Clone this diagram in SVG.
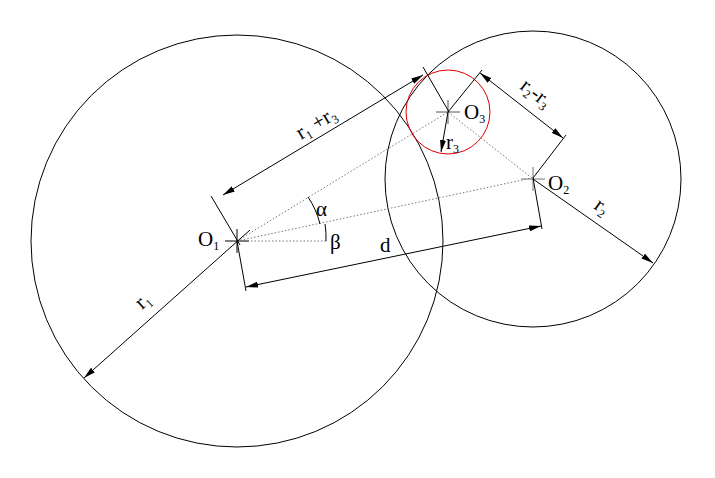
<svg xmlns="http://www.w3.org/2000/svg" width="715" height="478" viewBox="0 0 715 478">
<defs>
<marker id="a" viewBox="0 0 12 6" refX="12" refY="3" markerWidth="12" markerHeight="6" markerUnits="userSpaceOnUse" orient="auto-start-reverse"><path d="M0,0L12,3L0,6Z" fill="#000"/></marker>
<style>
.l{stroke:#000;stroke-width:1;fill:none}
.d{stroke:#777;stroke-width:1;stroke-dasharray:1.5,2;fill:none}
.t{font-family:"Liberation Serif",serif;font-size:21px;fill:#000}
.s{font-size:12px}
</style>
</defs>
<rect width="715" height="478" fill="#fff"/>
<g id="c1"><circle cx="237" cy="241" r="206" class="l"/><path d="M225,241H249M237,229V253" class="l"/><text class="t" x="198" y="246">O<tspan class="s" dy="4">1</tspan></text></g>
<g id="c2"><circle cx="533" cy="179" r="148" class="l"/><path d="M521,179H545M533,167V191" stroke="#777" fill="none"/><text class="t" x="548" y="190">O<tspan class="s" dy="4">2</tspan></text></g>
<g id="c3"><circle cx="448" cy="112" r="42" fill="none" stroke="#e00000"/><path d="M436,112H460M448,100V124" stroke="#555" fill="none"/><text class="t" x="464" y="119">O<tspan class="s" dy="4">3</tspan></text></g>
<g id="connectors">
<path d="M237,241L448,112M237,241L532,178M237,241H327M448,112L532,178" class="d"/>
<path d="M308,197A83,83 0 0 1 320,224M325,224A89,89 0 0 1 326,241" class="l"/>
<path d="M211,196L240,245M423,67L449,112M448,112L482,70M533,178L566,135M237,241L246,291M533,178L542,229" class="l"/>
<path d="M223,195L423,75" class="l" marker-start="url(#a)" marker-end="url(#a)"/>
<path d="M480,73L563,138" class="l" marker-start="url(#a)" marker-end="url(#a)"/>
<path d="M246,287L541,226" class="l" marker-start="url(#a)" marker-end="url(#a)"/>
<path d="M250,230L84,378" class="l" marker-end="url(#a)"/>
<path d="M533,179L653,263" class="l" marker-end="url(#a)"/>
<path d="M448,112L441,152" class="l" marker-end="url(#a)"/>
</g>
<g id="labels">
<text class="t" transform="translate(301,140) rotate(-31)">r<tspan class="s" dy="4">1</tspan><tspan dy="-4"> +r</tspan><tspan class="s" dy="4">3</tspan></text>
<text class="t" transform="translate(519,88) rotate(38)">r<tspan class="s" dy="4">2</tspan><tspan dy="-4">-r</tspan><tspan class="s" dy="4">3</tspan></text>
<text class="t" transform="translate(142,310) rotate(-42)">r<tspan class="s" dy="4">1</tspan></text>
<text class="t" transform="translate(593,208) rotate(35)">r<tspan class="s" dy="4">2</tspan></text>
<text class="t" x="446" y="149">r<tspan class="s" dy="4">3</tspan></text>
<text class="t" x="316" y="216">α</text>
<text class="t" x="330" y="249">β</text>
<text class="t" x="380" y="252">d</text>
</g>
</svg>
